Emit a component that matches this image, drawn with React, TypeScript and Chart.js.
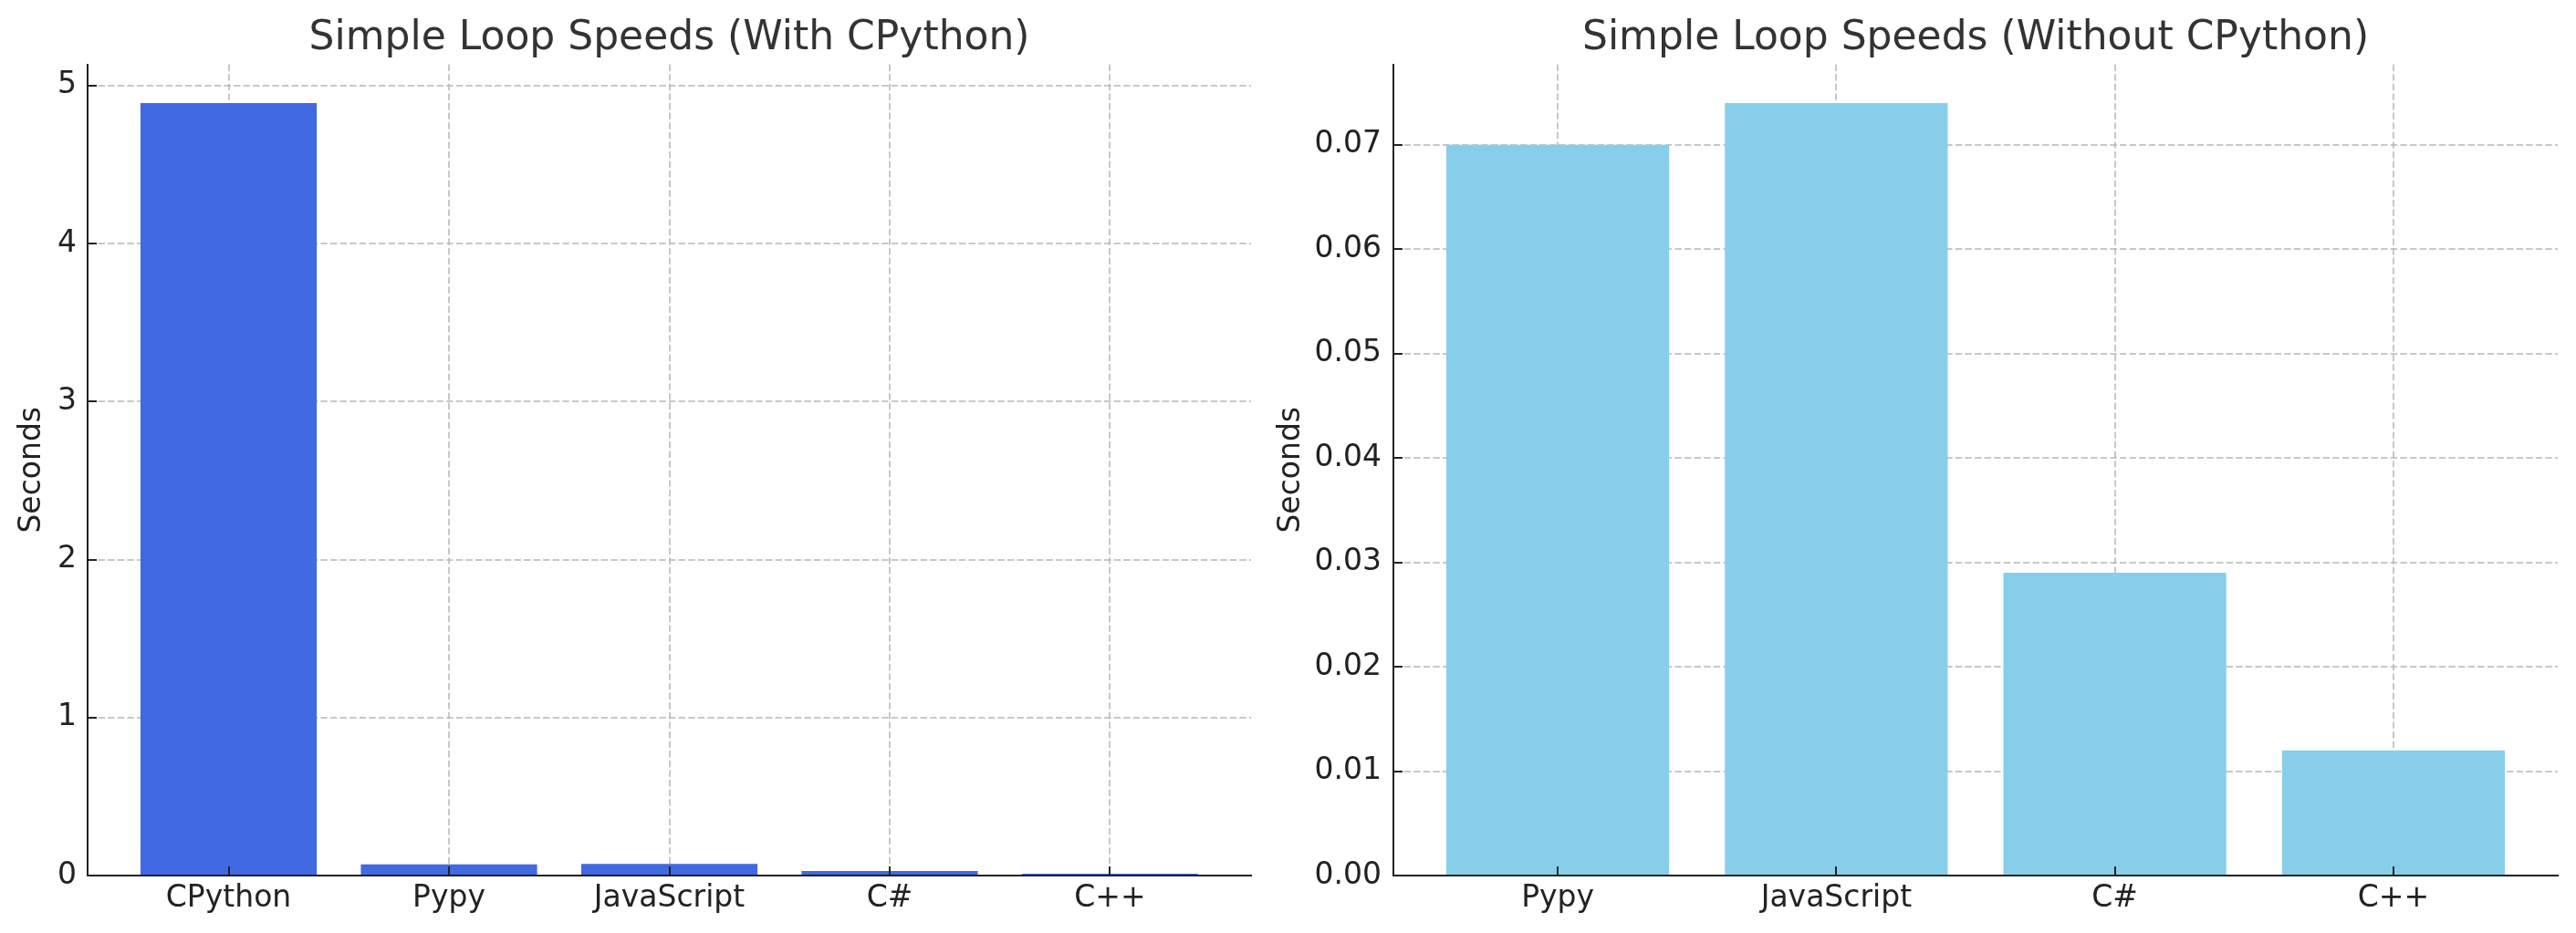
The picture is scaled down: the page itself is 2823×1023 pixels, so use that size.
import React, { useEffect, useRef } from "react";
import { Chart, registerables } from "chart.js";

Chart.register(...registerables);

// ---------- Data ----------
const leftCategories = ["CPython", "Pypy", "JavaScript", "C#", "C++"];
const leftValues = [4.89, 0.07, 0.074, 0.029, 0.012];
const leftYTicks = [0, 1, 2, 3, 4, 5];
const leftTitle = "Simple Loop Speeds (With CPython)";

const rightCategories = ["Pypy", "JavaScript", "C#", "C++"];
const rightValues = [0.07, 0.074, 0.029, 0.012];
const rightYTicks = [0, 0.01, 0.02, 0.03, 0.04, 0.05, 0.06, 0.07];
const rightTitle = "Simple Loop Speeds (Without CPython)";

const yAxisLabel = "Seconds";

// ---------- Styles ----------
const FONT = "'DejaVu Sans', sans-serif";
const AXIS_COLOR = "#222222";
const TEXT_COLOR = "#222222";
const TITLE_COLOR = "#333333";
const GRID_COLOR = "rgba(176,176,176,0.7)";

const inwardTicks = {
  id: "inwardTicks",
  afterDraw(chart: any) {
    const ctx = chart.ctx;
    const { left, bottom } = chart.chartArea;
    const xs = chart.scales.x;
    const ys = chart.scales.y;
    ctx.save();
    ctx.strokeStyle = AXIS_COLOR;
    ctx.lineWidth = 2;
    ctx.beginPath();
    xs.ticks.forEach((_: any, i: number) => {
      const p = Math.round(xs.getPixelForTick(i));
      ctx.moveTo(p, bottom);
      ctx.lineTo(p, bottom - 10);
    });
    ys.ticks.forEach((_: any, i: number) => {
      const p = Math.round(ys.getPixelForTick(i));
      ctx.moveTo(left, p);
      ctx.lineTo(left + 10, p);
    });
    ctx.stroke();
    ctx.restore();
  },
};

interface PanelProps {
  categories: string[];
  values: number[];
  yTicks: number[];
  title: string;
  color: string;
  width: number;
  yWidth: number;
  yTitlePad: number;
  yTickPad: number;
  rightPad: number;
  decimals: number;
  left: number;
}

function Panel(p: PanelProps) {
  const ref = useRef<HTMLCanvasElement>(null);
  useEffect(() => {
    if (!ref.current) return;
    const n = p.categories.length;
    const barW = 0.8;
    const xMargin = (n - 1 + barW) * 0.05;
    const xMin = -barW / 2 - xMargin;
    const xMax = n - 1 + barW / 2 + xMargin;
    const yMax = Math.max(...p.values) * 1.05;

    const chart = new Chart(ref.current, {
      type: "bar",
      data: {
        datasets: [
          {
            data: p.values.map((v, i) => ({ x: i, y: v })),
            backgroundColor: p.color,
            borderWidth: 0,
            categoryPercentage: barW,
            barPercentage: 1.0,
          },
        ],
      },
      plugins: [inwardTicks],
      options: {
        responsive: false,
        animation: false,
        events: [],
        layout: { padding: { left: 0, right: p.rightPad, top: 0, bottom: 0 } },
        plugins: {
          legend: { display: false },
          tooltip: { enabled: false },
          title: {
            display: true,
            text: p.title,
            fullSize: false,
            color: TITLE_COLOR,
            font: { family: FONT, size: 44, weight: "normal" },
            padding: { top: 16.4, bottom: 1.4 },
          },
        },
        scales: {
          x: {
            type: "linear",
            min: xMin,
            max: xMax,
            offset: false,
            bounds: "data",
            z: 1,
            afterFit: (s: any) => {
              s.height = 63;
            },
            afterBuildTicks: (s: any) => {
              s.ticks = p.categories.map((_, i) => ({ value: i }));
            },
            ticks: {
              autoSkip: false,
              maxRotation: 0,
              padding: 5.5,
              color: TEXT_COLOR,
              font: { family: FONT, size: 33 },
              callback: (v: any) => p.categories[Math.round(Number(v))] ?? "",
            },
            grid: {
              display: true,
              offset: false,
              drawTicks: false,
              color: GRID_COLOR,
              lineWidth: 2,
            },
            border: { display: true, color: AXIS_COLOR, width: 2, dash: [7.4, 3.2] },
          },
          y: {
            type: "linear",
            min: 0,
            max: yMax,
            bounds: "data",
            z: 1,
            afterFit: (s: any) => {
              s.width = p.yWidth;
            },
            afterBuildTicks: (s: any) => {
              s.ticks = p.yTicks.map((v) => ({ value: v }));
            },
            ticks: {
              autoSkip: false,
              padding: p.yTickPad,
              color: TEXT_COLOR,
              font: { family: FONT, size: 33 },
              callback: (v: any) => Number(v).toFixed(p.decimals),
            },
            grid: {
              display: true,
              drawTicks: false,
              color: GRID_COLOR,
              lineWidth: 2,
            },
            border: { display: true, color: AXIS_COLOR, width: 2, dash: [7.4, 3.2] },
            title: {
              display: true,
              text: yAxisLabel,
              color: TEXT_COLOR,
              font: { family: FONT, size: 33 },
              padding: { top: p.yTitlePad, bottom: 0 },
            },
          },
        },
      } as any,
    });
    return () => chart.destroy();
  }, []);
  return (
    <canvas
      ref={ref}
      width={p.width}
      height={1023}
      style={{ position: "absolute", left: p.left, top: 0, width: p.width, height: 1023 }}
    />
  );
}

export default function App() {
  return (
    <div
      style={{
        position: "absolute",
        left: 0,
        top: 0,
        width: 2823,
        height: 1023,
        background: "#ffffff",
      }}
    >
      <Panel
        categories={leftCategories}
        values={leftValues}
        yTicks={leftYTicks}
        title={leftTitle}
        color="#4169E1"
        width={1390}
        left={0}
        yWidth={96}
        yTitlePad={15.8}
        yTickPad={12}
        rightPad={19}
        decimals={0}
      />
      <Panel
        categories={rightCategories}
        values={rightValues}
        yTicks={rightYTicks}
        title={rightTitle}
        color="#87CEEB"
        width={1433}
        left={1390}
        yWidth={137}
        yTitlePad={5.5}
        yTickPad={13}
        rightPad={20}
        decimals={2}
      />
    </div>
  );
}
